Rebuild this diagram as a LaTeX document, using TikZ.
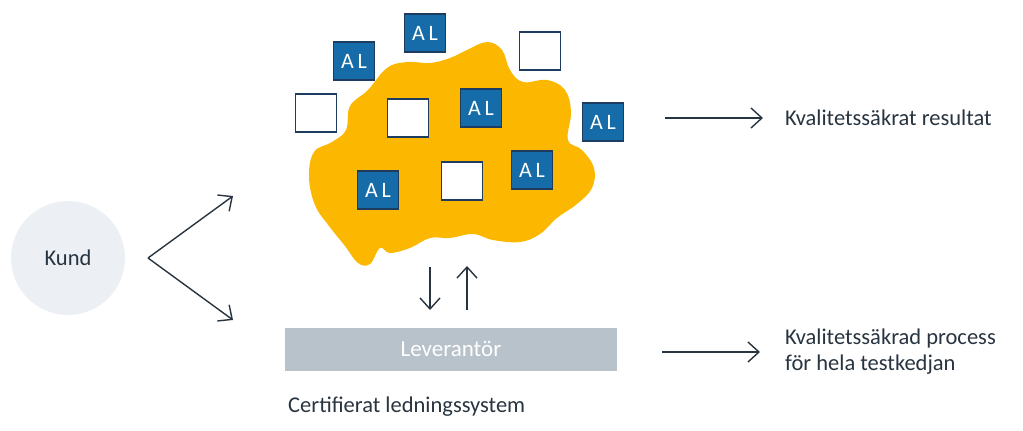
\documentclass[tikz,border=0pt]{standalone}
\usepackage{fontspec}
\setmainfont{Carlito}
\usepackage{tikz}
\usetikzlibrary{positioning, arrows.meta}

\definecolor{blobgold}{RGB}{252,184,0}
\definecolor{alblue}{RGB}{22,108,168}
\definecolor{boxedge}{RGB}{30,60,95}
\definecolor{ink}{RGB}{40,52,64}
\definecolor{kundgray}{RGB}{236,240,244}
\definecolor{barfill}{RGB}{184,194,202}

\begin{document}
\begin{tikzpicture}[x=1pt, y=-1pt,
    arr/.style={draw=ink, line width=1.4pt, -{Straight Barb[length=11pt, width=20pt, line width=1.4pt]}},
    albox/.style={draw=boxedge, line width=1.2pt, fill=alblue, text=white,
        minimum width=41pt, minimum height=38pt, inner sep=0pt, font=\fontsize{22}{22}\selectfont},
    emptybox/.style={draw=boxedge, line width=1.6pt, fill=white,
        minimum width=41pt, minimum height=38pt, inner sep=0pt},
    label/.style={text=ink, inner sep=0pt, font=\fontsize{22.5}{26}\selectfont}]
    \useasboundingbox (0,0) rectangle (1023,431);

    % Customer
    \node[circle, fill=kundgray, minimum size=114pt, label] (kund) at (68,258) {Kund};
    \coordinate (fork) at (148,258);
    \coordinate (forkup) at (233,196);
    \coordinate (forkdown) at (233,320);
    \draw[arr] (fork) -- (forkup);
    \draw[arr] (fork) -- (forkdown);

    % Blob
    \fill[blobgold] plot[smooth cycle, tension=0.65] coordinates {
        (467,50) (487,42) (502,50) (510,70) (523,82) (547,80) (565,90)
        (571,112) (568,140) (582,150) (594,168) (592,188) (577,204)
        (557,218) (540,234) (520,242) (493,240) (473,234) (450,238)
        (430,238) (410,248) (390,253) (380,248) (370,264) (358,263)
        (345,246) (329,226) (315,205) (309,177) (314,152) (332,142)
        (346,130) (350,106) (368,90) (387,68) (407,62) (430,63) (450,58)};

    % Boxes
    \node[albox] (al1) at (354,61) {A\,L};
    \node[albox] (al2) at (425,33) {A\,L};
    \node[albox] (al3) at (481,108) {A\,L};
    \node[albox] (al4) at (603,122) {A\,L};
    \node[albox] (al5) at (378,190) {A\,L};
    \node[albox] (al6) at (532,170) {A\,L};
    \node[emptybox] (e1) at (540,51) {};
    \node[emptybox] (e2) at (316,113) {};
    \node[emptybox] (e3) at (408,118) {};
    \node[emptybox] (e4) at (462,181) {};

    % Supplier
    \node[fill=barfill, minimum width=332pt, minimum height=43pt, inner sep=0pt,
        text=white, font=\fontsize{23}{23}\selectfont] (lev) at (451,349) {Leverantör};
    \node[label, anchor=west] (cert) at (288,407) {Certifierat ledningssystem};
    \coordinate (downtop) at (430,267);
    \coordinate (downbot) at (430,310);
    \coordinate (uptop) at (467,266);
    \coordinate (upbot) at (467,310);
    \draw[arr] (downtop) -- (downbot);
    \draw[arr] (upbot) -- (uptop);

    % Results
    \node[label, anchor=west] (res) at (785,118) {Kvalitetssäkrat resultat};
    \node[label, anchor=west, align=left] (proc) at (785,352) {Kvalitetssäkrad process\\för hela testkedjan};
    \draw[arr] ([xshift=-120pt]res.west) -- ([xshift=-22pt]res.west);
    \draw[arr] ([xshift=-123pt]proc.west) -- ([xshift=-25pt]proc.west);
\end{tikzpicture}
\end{document}
